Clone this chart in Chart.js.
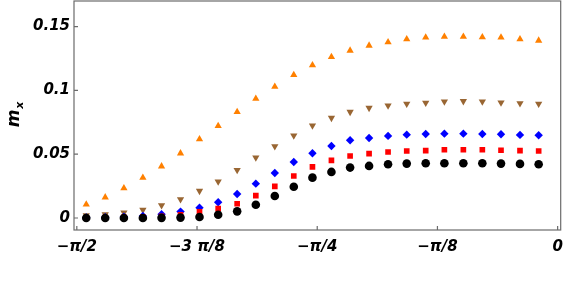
<!DOCTYPE html>
<html>
<head>
<meta charset="utf-8">
<script src="https://cdn.jsdelivr.net/npm/chart.js@4/dist/chart.umd.min.js"></script>
<style>
    html, body { margin: 0; padding: 0; background: #fff; }
    #wrap { width: 565px; height: 292px; }
</style>
</head>
<body>
<div id="wrap"><canvas id="chart"></canvas></div>
<script>
// angle values (x)
const xValues = [-1.540, -1.478, -1.417, -1.355, -1.294, -1.232, -1.170, -1.109, -1.047, -0.986,
    -0.924, -0.862, -0.801, -0.739, -0.678, -0.616, -0.554, -0.493, -0.431, -0.370,
    -0.308, -0.246, -0.185, -0.123, -0.062];

// m_x series
const blackValues = [0, 0, 0, 0, 0.0001, 0.0003, 0.0008, 0.0026, 0.0052, 0.0104, 0.0172, 0.0245, 0.0316,
    0.0361, 0.0395, 0.0408, 0.0421, 0.0426, 0.0429, 0.0429, 0.0429, 0.0429, 0.0426, 0.0424, 0.0421];
const redValues = [0.0002, 0.0003, 0.0005, 0.0008, 0.0013, 0.0025, 0.0049, 0.0073, 0.0112, 0.0175, 0.0248, 0.0329, 0.0400,
    0.0452, 0.0486, 0.0504, 0.0517, 0.0525, 0.0528, 0.0535, 0.0535, 0.0535, 0.0531, 0.0528, 0.0525];
const blueValues = [0.0004, 0.0006, 0.0010, 0.0016, 0.0030, 0.0050, 0.0081, 0.0123, 0.0188, 0.0269, 0.0353, 0.0439, 0.0507,
    0.0564, 0.0609, 0.0627, 0.0643, 0.0653, 0.0658, 0.0661, 0.0661, 0.0658, 0.0656, 0.0651, 0.0648];
const brownValues = [0.0020, 0.0029, 0.0042, 0.0063, 0.0099, 0.0147, 0.0212, 0.0285, 0.0376, 0.0473, 0.0562, 0.0645, 0.0724,
    0.0784, 0.0831, 0.0862, 0.0880, 0.0894, 0.0902, 0.0912, 0.0915, 0.0912, 0.0904, 0.0899, 0.0894];
const orangeValues = [0.0107, 0.0162, 0.0233, 0.0316, 0.0405, 0.0507, 0.0617, 0.0721, 0.0831, 0.0935, 0.1029, 0.1121, 0.1197,
    0.1262, 0.1312, 0.1351, 0.1377, 0.1401, 0.1414, 0.1421, 0.1421, 0.1417, 0.1414, 0.1401, 0.1390];

// axis ticks
const xTickValues = [-Math.PI / 2, -3 * Math.PI / 8, -Math.PI / 4, -Math.PI / 8, 0];
const xTickLabels = ["\u2212\u03c0/2", "\u22123 \u03c0/8", "\u2212\u03c0/4", "\u2212\u03c0/8", "0"];
const yTickValues = [0, 0.05, 0.1, 0.15];
const yTickLabels = ["0", "0.05", "0.1", "0.15"];

const tickFont = { family: "DejaVu Sans", size: 15, weight: "bold", style: "italic" };
const frameColor = "#6b6b6b";
const plotTop = 1;

function points(ys) {
    return xValues.map((x, i) => ({ x: x, y: ys[i] }));
}

function series(ys, color, style, radius, rotation) {
    return {
        data: points(ys),
        showLine: false,
        backgroundColor: color,
        borderColor: color,
        borderWidth: 0,
        pointStyle: style,
        pointRadius: radius,
        pointRotation: rotation || 0,
        pointHoverRadius: radius
    };
}

// frame, inward ticks and the m_x label
const framePlugin = {
    id: "frame",
    afterLayout(chart) {
        // pull the plot area up to the top edge, as in the original
        const ys = chart.scales.y;
        chart.chartArea.top = plotTop;
        chart.chartArea.height = chart.chartArea.bottom - plotTop;
        ys.top = plotTop;
        ys.height = ys.bottom - plotTop;
        ys.configure();
    },
    afterDraw(chart) {
        const ctx = chart.ctx;
        const a = chart.chartArea;
        const xs = chart.scales.x;
        const ys = chart.scales.y;
        ctx.save();
        ctx.strokeStyle = frameColor;
        ctx.lineWidth = 1.2;
        ctx.strokeRect(a.left, a.top, a.right - a.left, a.bottom - a.top);
        ctx.beginPath();
        xs.ticks.forEach(t => {
            const px = xs.getPixelForValue(t.value);
            ctx.moveTo(px, a.bottom);
            ctx.lineTo(px, a.bottom - 4);
        });
        ys.ticks.forEach(t => {
            const py = ys.getPixelForValue(t.value);
            ctx.moveTo(a.left, py);
            ctx.lineTo(a.left + 4, py);
        });
        ctx.stroke();

        // y title
        ctx.translate(19, (a.top + a.bottom) / 2);
        ctx.rotate(-Math.PI / 2);
        ctx.fillStyle = "#000";
        ctx.textBaseline = "alphabetic";
        ctx.font = "italic bold 17px 'DejaVu Sans'";
        const mw = ctx.measureText("m").width;
        ctx.fillText("m", -mw / 2 - 3, 0);
        ctx.font = "italic bold 11px 'DejaVu Sans'";
        ctx.fillText("x", mw / 2 - 2, 4);
        ctx.restore();
    }
};

new Chart(document.getElementById("chart"), {
    type: "scatter",
    data: {
        datasets: [
            series(blackValues, "#000000", "circle", 4.3),
            series(redValues, "#ff0000", "rect", 4.0),
            series(blueValues, "#0000ff", "rectRot", 4.2),
            series(brownValues, "#996633", "triangle", 4.2, 180),
            series(orangeValues, "#ff8000", "triangle", 4.2)
        ]
    },
    options: {
        responsive: true,
        maintainAspectRatio: false,
        animation: false,
        layout: { padding: { left: 0, right: 2, top: 0, bottom: 0 } },
        plugins: {
            legend: { display: false },
            tooltip: { enabled: false }
        },
        scales: {
            x: {
                type: "linear",
                min: -1.58,
                max: 0.01,
                grid: { display: false, drawTicks: false },
                border: { display: false },
                afterBuildTicks: scale => {
                    scale.ticks = xTickValues.map(v => ({ value: v }));
                },
                afterFit: scale => {
                    scale.height = 62;
                    scale.paddingLeft = 0;
                    scale.paddingRight = 0;
                },
                ticks: {
                    color: "#000",
                    font: tickFont,
                    padding: 8,
                    maxRotation: 0,
                    autoSkip: false,
                    callback: (v, i) => xTickLabels[i]
                }
            },
            y: {
                type: "linear",
                min: -0.0094,
                max: 0.170,
                grid: { display: false, drawTicks: false },
                border: { display: false },
                afterBuildTicks: scale => {
                    scale.ticks = yTickValues.map(v => ({ value: v }));
                },
                afterFit: scale => {
                    scale.width = 74;
                    scale.paddingTop = 0;
                    scale.paddingBottom = 0;
                },
                ticks: {
                    color: "#000",
                    font: tickFont,
                    padding: 4,
                    autoSkip: false,
                    callback: (v, i) => yTickLabels[i]
                }
            }
        }
    },
    plugins: [framePlugin]
});
</script>
</body>
</html>
